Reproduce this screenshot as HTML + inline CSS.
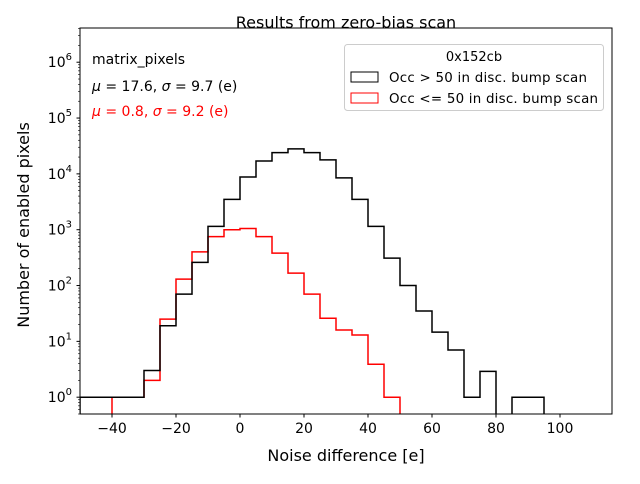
<!DOCTYPE html>
<html><head><meta charset="utf-8"><style>
body{margin:0;background:#fff;font-family:"DejaVu Sans","Liberation Sans",sans-serif;}
svg text{font-family:"DejaVu Sans","Liberation Sans",sans-serif;}
</style></head><body>
<svg id="chart" width="640" height="480" xmlns="http://www.w3.org/2000/svg">
<g id="plot"></g>
</svg>
<script>
const binStart = -50, binWidth = 5;
const blackCounts = [1,1,1,1,3,19,70,260,1150,3500,8800,17000,24000,28000,24000,17800,8500,3500,1150,310,100,35,14.6,7,1,2.9,0,1,1];
const redCounts = [0,0,1,1,2,25,130,400,750,1000,1050,750,380,167,70,26,16,13,3.9,1];
const xTicks = [-40,-20,0,20,40,60,80,100];
const yTicks = [0,1,2,3,4,5,6];

const L=80,R=612,T=28,B=414;
const xmin=-50,xmax=116.25;
const ymin=Math.log10(0.5), ymax=Math.log10(4.1e6);
const X=v=>L+(v-xmin)/(xmax-xmin)*(R-L);
const Y=v=>B-(Math.log10(v)-ymin)/(ymax-ymin)*(B-T);
const svg=document.getElementById('chart');
const NS='http://www.w3.org/2000/svg';
function mk(tag,attrs,parent){const e=document.createElementNS(NS,tag);for(const k in attrs)e.setAttribute(k,attrs[k]);(parent||svg).appendChild(e);return e;}
function txt(s,attrs){const e=mk('text',attrs);e.textContent=s;return e;}

function stepPath(counts){
  let d='';let prevZero=true;
  for(let i=0;i<counts.length;i++){
    const x0=X(binStart+i*binWidth),x1=X(binStart+(i+1)*binWidth);
    const c=counts[i];
    const y=c>0?Y(c):B+5;
    if(prevZero&&c>0){d+=`M${x0},${B+5}L${x0},${y}`;}
    else if(!prevZero){d+=`L${x0},${y}`;}
    if(c>0){d+=`L${x1},${y}`;}
    prevZero=c<=0;
  }
  if(!prevZero){const xe=X(binStart+counts.length*binWidth);d+=`L${xe},${B+5}`;}
  return d;
}
const clip=mk('clipPath',{id:'cp'});mk('rect',{x:L,y:T,width:R-L,height:B-T},clip);
const red=mk('path',{d:stepPath(redCounts),fill:'none',stroke:'#ff0000','stroke-width':1.5,'clip-path':'url(#cp)'});


const blk=mk('path',{d:stepPath(blackCounts),fill:'none',stroke:'#000','stroke-width':1.5,'clip-path':'url(#cp)'});



const frame=mk('rect',{x:L,y:T,width:R-L,height:B-T,fill:'none',stroke:'#000','stroke-width':1});



xTicks.forEach(t=>{
  mk('line',{x1:X(t),x2:X(t),y1:B,y2:B+3.5,stroke:'#000'});
  const e=txt(t<0?'\u2212'+(-t):String(t),{x:X(t),y:B+19,'font-size':14,'text-anchor':'middle'});
  
  
});
yTicks.forEach(p=>{
  const y=Y(Math.pow(10,p));
  mk('line',{x1:L-3.5,x2:L,y1:y,y2:y,stroke:'#000'});
  const e=mk('text',{x:L-8,y:y+5,'font-size':14,'text-anchor':'end'});
  e.innerHTML='10<tspan dy="-7" font-size="10">'+p+'</tspan>';
  
  
  for(let m=2;m<10;m++){const v=m*Math.pow(10,p-1);if(v>=0.5){const yy=Y(v);mk('line',{x1:L-2,x2:L,y1:yy,y2:yy,stroke:'#000','stroke-width':0.6});}}
});
for(let m=2;m<5;m++){const yy=Y(m*1e6);mk('line',{x1:L-2,x2:L,y1:yy,y2:yy,stroke:'#000','stroke-width':0.6});}
</script>
<svg width="640" height="480" style="position:absolute;left:0;top:0" xmlns="http://www.w3.org/2000/svg">
<text x="346" y="28" font-size="16" text-anchor="middle">Results from zero-bias scan</text>
<text x="346" y="461" font-size="16" text-anchor="middle">Noise difference [e]</text>
<text transform="translate(29,225) rotate(-90)" font-size="16" text-anchor="middle">Number of enabled pixels</text>
<text x="92" y="64" font-size="14">matrix_pixels</text>
<text x="92" y="91" font-size="14"><tspan font-style="italic">μ</tspan> = 17.6, <tspan font-style="italic">σ</tspan> = 9.7 (e)</text>
<text x="92" y="116" font-size="14" fill="#ff0000"><tspan font-style="italic">μ</tspan> = 0.8, <tspan font-style="italic">σ</tspan> = 9.2 (e)</text>
<g>
<rect x="344.5" y="44.5" width="259" height="66" rx="3" fill="#fff" fill-opacity="0.8" stroke="#ccc"/>
<text x="474" y="61" font-size="13" text-anchor="middle">0x152cb</text>
<rect x="351" y="72" width="27" height="10" fill="none" stroke="#000"/>
<text x="389" y="82" font-size="13.4" textLength="198">Occ &gt; 50 in disc. bump scan</text>
<rect x="351" y="93" width="27" height="10" fill="none" stroke="#ff0000"/>
<text x="389" y="103" font-size="13.4" textLength="209">Occ &lt;= 50 in disc. bump scan</text>
</g>
</svg>
</body></html>
